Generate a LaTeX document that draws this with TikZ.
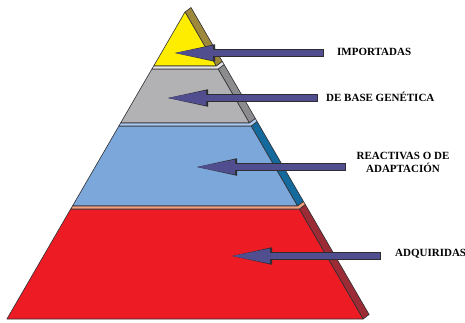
\documentclass[tikz,border=0pt]{standalone}
\usepackage{fontspec}
\setmainfont{Liberation Serif}
\usetikzlibrary{arrows.meta}

\definecolor{yfront}{RGB}{255,237,0}
\definecolor{yside}{RGB}{158,136,60}
\definecolor{gfront}{RGB}{178,178,180}
\definecolor{gside}{RGB}{140,140,143}
\definecolor{bfront}{RGB}{123,167,218}
\definecolor{bside}{RGB}{20,106,156}
\definecolor{rfront}{RGB}{237,28,36}
\definecolor{rside}{RGB}{155,44,53}
\definecolor{lipgray}{RGB}{230,230,233}
\definecolor{lipblue}{RGB}{170,201,238}
\definecolor{lipred}{RGB}{242,160,126}
\definecolor{arrowfill}{RGB}{80,78,142}
\definecolor{edgecol}{RGB}{45,45,50}

\begin{document}
\begin{tikzpicture}[
        x=1pt, y=-1pt,
        face/.style={draw=edgecol, line width=0.6pt, line join=round},
        label/.style={font=\fontsize{11}{13}\selectfont\bfseries, text=black, inner sep=0pt, align=center},
        blockarrow/.style={line width=6.5pt, draw=arrowfill,
            -{Triangle[length=38pt, width=15pt, line width'=0pt]},
            preaction={draw=edgecol, line width=8pt, shorten <=-0.75pt,
                -{Triangle[length=40pt, width=17.5pt, line width'=0pt]}}}
    ]
    \useasboundingbox (0,0) rectangle (465,322);

    % Top layer - yellow
    \fill[face, fill=yside] (185,12) -- (216.3,66) -- (222.3,61.5) -- (191,7.5) -- cycle;
    \fill[face, fill=yfront] (185,12) -- (216.3,66) -- (153.7,66) -- cycle;

    % Second layer - gray
    \fill[face, fill=gside] (218.1,69) -- (249.4,123) -- (255.4,118.5) -- (224.1,64.5) -- cycle;
    \fill[face, fill=gfront] (151.9,69) -- (218.1,69) -- (249.4,123) -- (120.6,123) -- cycle;
    \fill[face, fill=lipgray] (153.7,66) -- (216.3,66) -- (222.3,61.5) -- (224.1,64.5) -- (218.1,69) -- (151.9,69) -- cycle;

    % Third layer - blue
    \fill[face, fill=bside] (251.1,126) -- (297.5,206) -- (303.5,201.5) -- (257.1,121.5) -- cycle;
    \fill[face, fill=bfront] (118.9,126) -- (251.1,126) -- (297.5,206) -- (72.5,206) -- cycle;
    \fill[face, fill=lipblue] (120.6,123) -- (249.4,123) -- (255.4,118.5) -- (257.1,121.5) -- (251.1,126) -- (118.9,126) -- cycle;

    % Bottom layer - red
    \fill[face, fill=rside] (299.3,209) -- (363.1,319) -- (369.1,314.5) -- (305.3,204.5) -- cycle;
    \fill[face, fill=rfront] (70.7,209) -- (299.3,209) -- (363.1,319) -- (6.9,319) -- cycle;
    \fill[face, fill=lipred] (72.5,206) -- (297.5,206) -- (303.5,201.5) -- (305.3,204.5) -- (299.3,209) -- (70.7,209) -- cycle;

    % Labels
    \node[label, anchor=west] (imp) at (337,52) {IMPORTADAS};
    \node[label, anchor=west] (gen) at (326,97) {DE BASE GENÉTICA};
    \node[label] (rea) at (403,162) {REACTIVAS O DE\\ADAPTACIÓN};
    \node[label, anchor=west] (adq) at (395,254) {ADQUIRIDAS};

    % Arrow ends
    \coordinate (t1) at (323,53);
    \coordinate (p1) at (175,53);
    \coordinate (t2) at (317,98);
    \coordinate (p2) at (168,98);
    \coordinate (t3) at (345,167);
    \coordinate (p3) at (197,167);
    \coordinate (t4) at (380,256);
    \coordinate (p4) at (232,256);

    \draw[blockarrow] (t1) -- (p1);
    \draw[blockarrow] (t2) -- (p2);
    \draw[blockarrow] (t3) -- (p3);
    \draw[blockarrow] (t4) -- (p4);
\end{tikzpicture}
\end{document}
